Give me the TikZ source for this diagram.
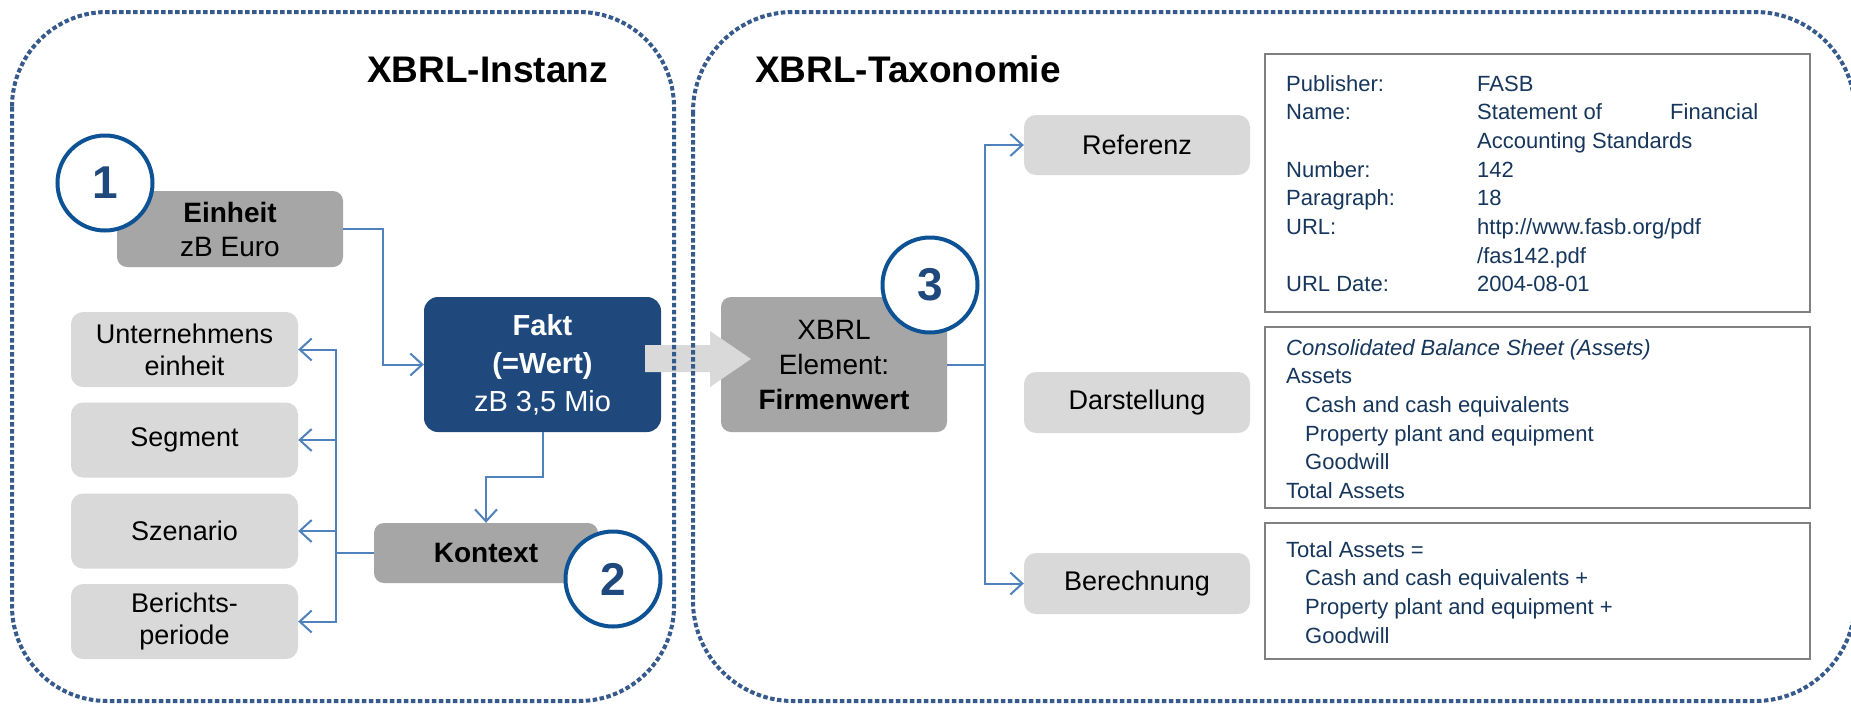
\documentclass[tikz,border=0pt]{standalone}
\usepackage{fontspec}
\setmainfont{Liberation Sans}
\usetikzlibrary{arrows.meta}
\definecolor{gDark}{RGB}{166,166,166}
\definecolor{gLight}{RGB}{217,217,217}
\definecolor{navyFill}{RGB}{31,73,125}
\definecolor{cblue}{RGB}{14,82,150}
\definecolor{numblue}{RGB}{31,73,125}
\definecolor{lblue}{RGB}{79,129,189}
\definecolor{frameblue}{RGB}{55,90,140}
\definecolor{infogray}{RGB}{128,128,128}
\definecolor{infoblue}{RGB}{22,54,92}
\newcommand\fsz[2]{\fontsize{#1}{#2}\selectfont}
\begin{document}
\begin{tikzpicture}[x=1pt,y=-1pt,
  gbox/.style={fill=gDark, rounded corners=10pt, inner sep=0pt, font=\fsz{28}{34}, align=center},
  fbox/.style={fill=navyFill, rounded corners=14pt, inner sep=0pt, align=center, text=white},
  lbox/.style={fill=gLight, rounded corners=12pt, inner sep=0pt, font=\fsz{27}{32}, align=center, minimum width=227pt},
  numc/.style={circle, draw=cblue, line width=4pt, fill=white, minimum size=95pt, inner sep=0pt, font=\bfseries\fsz{46}{50}, text=numblue},
  conn/.style={draw=lblue, line width=2pt, -{Straight Barb[length=12pt,width=22pt]}},
  plain/.style={draw=lblue, line width=2pt},
  frame/.style={draw=frameblue, line width=4pt, dash pattern=on 4.5pt off 2.5pt},
  info/.style={draw=infogray, line width=2pt, fill=white, inner sep=0pt},
  infotext/.style={anchor=base west, inner sep=0pt, text=infoblue, font=\fsz{22}{28.7}},
  title/.style={anchor=base west, inner sep=0pt, font=\bfseries\fsz{37}{44}}]
\useasboundingbox (0,0) rectangle (1851,707);
\fill[white] (0,0) rectangle (1851,707);

% titles
\node[title] (t1) at (367,82) {XBRL-Instanz};
\node[title] (t2) at (755,82) {XBRL-Taxonomie};

% info boxes
\node[info, minimum width=545pt, minimum height=258pt] (ia) at (1537.5,183) {};
\node[info, minimum width=545pt, minimum height=181pt] (ib) at (1537.5,417.5) {};
\node[info, minimum width=545pt, minimum height=136pt] (ic) at (1537.5,591) {};

\node[infotext] (ta) at (1286,91) {\begin{tabular}[t]{@{}p{191pt}@{}l@{}}
Publisher: & FASB\\
Name: & \makebox[193pt][l]{Statement of}Financial\\
 & Accounting Standards\\
Number: & 142\\
Paragraph: & 18\\
URL: & http://www.fasb.org/pdf\\
 & /fas142.pdf\\
URL Date: & 2004-08-01
\end{tabular}};

\node[infotext] (tb) at (1286,355) {\begin{tabular}[t]{@{}l@{}}
\textit{Consolidated Balance Sheet (Assets)}\\
Assets\\
\hspace*{19pt}Cash and cash equivalents\\
\hspace*{19pt}Property plant and equipment\\
\hspace*{19pt}Goodwill\\
Total Assets
\end{tabular}};

\node[infotext] (tc) at (1286,557) {\begin{tabular}[t]{@{}l@{}}
Total Assets =\\
\hspace*{19pt}Cash and cash equivalents +\\
\hspace*{19pt}Property plant and equipment +\\
\hspace*{19pt}Goodwill
\end{tabular}};

% left boxes
\node[lbox, minimum height=75pt] (u) at (184.5,349.5) {Unternehmens\\einheit};
\node[lbox, minimum height=75pt] (s) at (184.5,440) {Segment};
\node[lbox, minimum height=75pt] (z) at (184.5,531) {Szenario};
\node[lbox, minimum height=75pt] (b) at (184.5,621.5) {Berichts-\\periode};

% right gray boxes
\node[lbox, minimum width=226pt, minimum height=60pt] (ref) at (1137,145) {Referenz};
\node[lbox, minimum width=226pt, minimum height=61pt] (dar) at (1137,402.5) {Darstellung};
\node[lbox, minimum width=226pt, minimum height=61pt] (ber) at (1137,583.5) {Berechnung};

% main boxes
\node[gbox, minimum width=226pt, minimum height=76pt] (ein) at (230,229) {\textbf{Einheit}\\zB Euro};
\node[fbox, minimum width=237pt, minimum height=135pt, font=\fsz{29}{38}] (fakt) at (542.5,364.5) {\textbf{Fakt}\\\textbf{(=Wert)}\\zB 3,5 Mio};
\node[gbox, minimum width=224pt, minimum height=60pt] (kon) at (486,553) {\textbf{Kontext}};
\node[gbox, minimum width=226pt, minimum height=135pt, font=\fsz{28}{35}] (xbrl) at (834,364.5) {XBRL\\Element:\\\textbf{Firmenwert}};

% connectors
\draw[conn] (ein.east) -- ++(40,0) |- (fakt.west);
\draw[conn] (fakt.south) -- ++(0,45) -| (kon.north);
\coordinate (kj) at (336,553);
\draw[plain] (kon.west) -- (kj);
\draw[conn] (kj) |- (u.east);
\draw[conn] (kj) |- (s.east);
\draw[conn] (kj) |- (z.east);
\draw[conn] (kj) |- (b.east);
\coordinate (xj) at (985,364.5);
\draw[plain] (xbrl.east) -- (xj);
\draw[conn] (xj) |- (ref.west);
\draw[conn] (xj) |- (ber.west);

% big gray arrow
\fill[gLight] (645,345) -- (710,345) -- (710,331) -- (751,359) -- (710,387) -- (710,372) -- (645,372) -- cycle;

% number circles
\node[numc] (c1) at (105,183) {1};
\node[numc] (c2) at (613,579) {2};
\node[numc] (c3) at (930,285) {3};

% dotted frames
\draw[frame, rounded corners=95pt] (12,12) rectangle (674,701);
\draw[frame, rounded corners=100pt] (693,12) rectangle (1855,701);
\end{tikzpicture}
\end{document}
